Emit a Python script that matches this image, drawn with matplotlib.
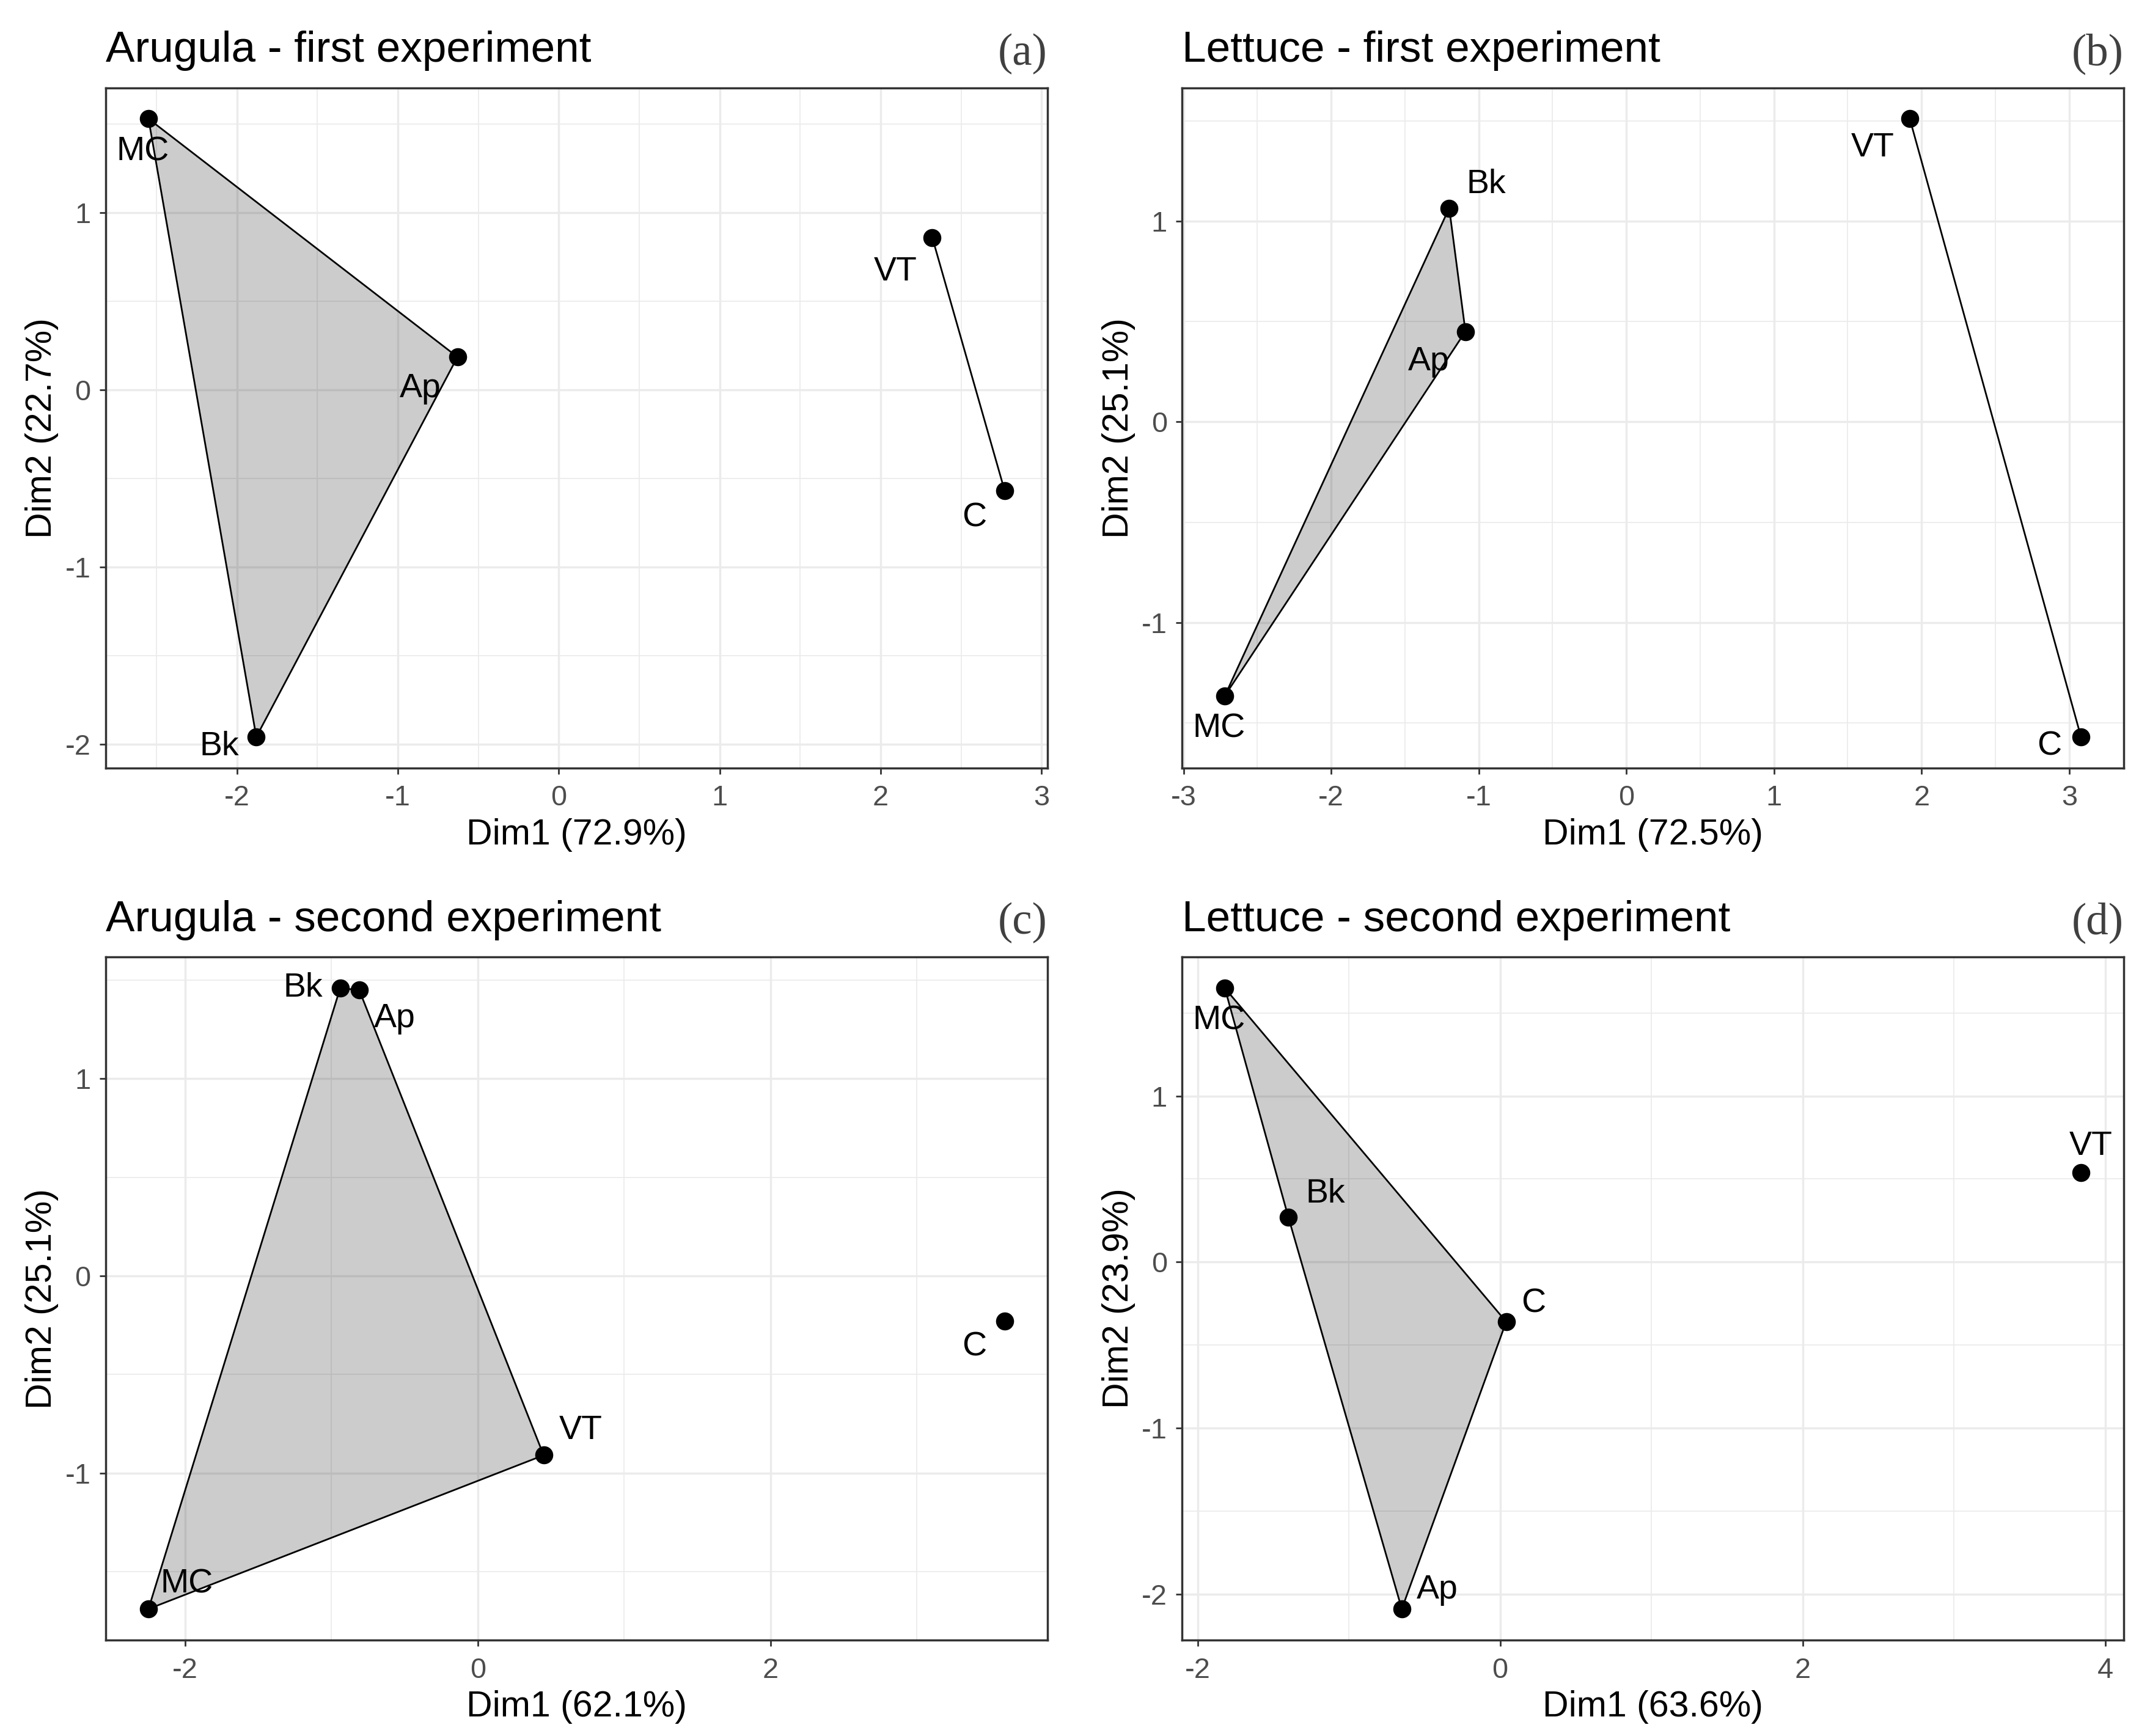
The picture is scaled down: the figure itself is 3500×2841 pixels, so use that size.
import numpy as np
import matplotlib.pyplot as plt
from matplotlib.patches import Polygon
from matplotlib.ticker import MultipleLocator

plt.rcParams['font.family'] = ['Liberation Sans', 'DejaVu Sans']
plt.rcParams['axes.unicode_minus'] = False

# --- data (PCA individuals) ---
names_a = ["MC", "Ap", "Bk", "VT", "C"]
dim1_a = [-2.55, -0.63, -1.88, 2.32, 2.77]
dim2_a = [1.53, 0.185, -1.96, 0.86, -0.57]
group_a = [1, 1, 1, 2, 2]

names_b = ["Bk", "Ap", "MC", "VT", "C"]
dim1_b = [-1.20, -1.09, -2.72, 1.92, 3.08]
dim2_b = [1.065, 0.45, -1.365, 1.51, -1.57]
group_b = [1, 1, 1, 2, 2]

names_c = ["Bk", "Ap", "VT", "MC", "C"]
dim1_c = [-0.94, -0.81, 0.45, -2.25, 3.60]
dim2_c = [1.46, 1.45, -0.91, -1.69, -0.23]
group_c = [1, 1, 1, 1, 2]

names_d = ["MC", "Bk", "C", "Ap", "VT"]
dim1_d = [-1.82, -1.40, 0.04, -0.65, 3.84]
dim2_d = [1.65, 0.27, -0.36, -2.09, 0.54]
group_d = [1, 1, 1, 1, 2]

titles = ["Arugula - first experiment", "Lettuce - first experiment",
          "Arugula - second experiment", "Lettuce - second experiment"]
tags = ["(a)", "(b)", "(c)", "(d)"]
xlabels = ["Dim1 (72.9%)", "Dim1 (72.5%)", "Dim1 (62.1%)", "Dim1 (63.6%)"]
ylabels = ["Dim2 (22.7%)", "Dim2 (25.1%)", "Dim2 (25.1%)", "Dim2 (23.9%)"]

# label offsets (points) to mimic the repelled text placement
offs_a = [(-2.6, -15.5), (-17.4, -14.9), (-17.4, -4.5), (-17.4, -16.2), (-14.2, -12.9)]
offs_b = [(17.4, 11), (-17.4, -14.2), (-2.6, -15.5), (-17.4, -13.6), (-14.9, -4.5)]
offs_c = [(-17.4, 0), (16.8, -13.6), (17.4, 11.6), (18.1, 11.6), (-14.2, -12.3)]
offs_d = [(-2.6, -15.5), (17.4, 11), (12.9, 8.4), (16.8, 9), (4.5, 12.3)]

panels = [
    (names_a, dim1_a, dim2_a, group_a, offs_a, 1),
    (names_b, dim1_b, dim2_b, group_b, offs_b, 1),
    (names_c, dim1_c, dim2_c, group_c, offs_c, 2),
    (names_d, dim1_d, dim2_d, group_d, offs_d, 2),
]

positions = [
    [0.0494, 0.5577, 0.4403, 0.3917],
    [0.5526, 0.5577, 0.4403, 0.3917],
    [0.0494, 0.0553, 0.4403, 0.3934],
    [0.5526, 0.0553, 0.4403, 0.3934],
]


def hull(pts):
    pts = sorted(set(pts))
    if len(pts) <= 2:
        return pts

    def cross(o, a, b):
        return (a[0] - o[0]) * (b[1] - o[1]) - (a[1] - o[1]) * (b[0] - o[0])

    lower = []
    for p in pts:
        while len(lower) >= 2 and cross(lower[-2], lower[-1], p) <= 0:
            lower.pop()
        lower.append(p)
    upper = []
    for p in reversed(pts):
        while len(upper) >= 2 and cross(upper[-2], upper[-1], p) <= 0:
            upper.pop()
        upper.append(p)
    return lower[:-1] + upper[:-1]


fig = plt.figure(figsize=(14, 11.364), dpi=250)

for i, (names, x, y, grp, offs, xstep) in enumerate(panels):
    ax = fig.add_axes(positions[i])
    ax.set_axisbelow(True)

    for g in sorted(set(grp)):
        pts = [(x[k], y[k]) for k in range(len(x)) if grp[k] == g]
        h = hull(pts)
        if len(h) >= 3:
            ax.add_patch(Polygon(h, closed=True, facecolor=(0, 0, 0, 0.2),
                                 edgecolor='black', linewidth=0.8, zorder=2))
        elif len(h) == 2:
            ax.plot([h[0][0], h[1][0]], [h[0][1], h[1][1]], color='black',
                    linewidth=0.8, zorder=2)

    ax.plot(x, y, 'o', color='black', markersize=7.5, zorder=3)
    for k, nm in enumerate(names):
        ax.annotate(nm, (x[k], y[k]), xytext=offs[k], textcoords='offset points',
                    ha='center', va='center', fontsize=16, color='black', zorder=4)

    ax.margins(0.05)
    ax.xaxis.set_major_locator(MultipleLocator(xstep))
    ax.xaxis.set_minor_locator(MultipleLocator(xstep / 2))
    ax.yaxis.set_major_locator(MultipleLocator(1))
    ax.yaxis.set_minor_locator(MultipleLocator(0.5))
    ax.grid(which='major', color='#EBEBEB', linewidth=1.0)
    ax.grid(which='minor', color='#EBEBEB', linewidth=0.5)
    ax.tick_params(which='major', length=3, width=0.8, color='#333333',
                   labelsize=13.5, labelcolor='#4D4D4D')
    ax.tick_params(axis='x', pad=5)
    ax.tick_params(axis='y', pad=4)
    ax.tick_params(which='minor', length=0)
    for s in ax.spines.values():
        s.set_color('#333333')
        s.set_linewidth(1.0)

    ax.set_xlabel(xlabels[i], fontsize=17, labelpad=3)
    ax.set_ylabel(ylabels[i], fontsize=17, labelpad=3)
    ax.text(0, 1.038, titles[i], transform=ax.transAxes, ha='left',
            va='baseline', fontsize=20.5, color='black')
    ax.text(1, 1.034, tags[i], transform=ax.transAxes, ha='right',
            va='baseline', fontsize=21, color='#404040',
            family=['Liberation Serif', 'DejaVu Serif'])

plt.savefig('out.png', dpi=250)
